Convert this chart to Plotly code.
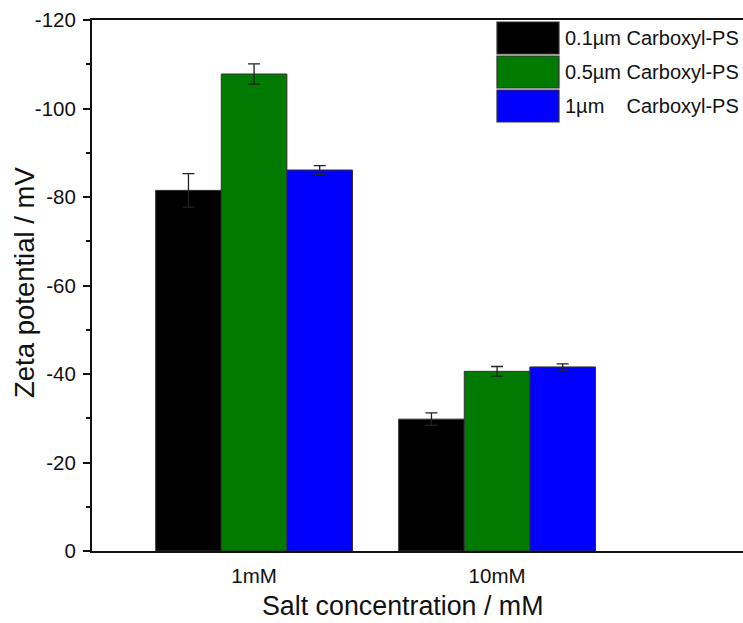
import plotly.graph_objects as go

# Zeta potential of carboxylated polystyrene particles at two salt concentrations
salt_levels = ["1mM", "10mM"]
series_names = ["0.1\u00b5m Carboxyl-PS", "0.5\u00b5m Carboxyl-PS", "1\u00b5m\u00a0\u00a0\u00a0\u00a0Carboxyl-PS"]
zeta_01um = [-81.5, -29.8]
zeta_05um = [-107.8, -40.6]
zeta_1um = [-86.1, -41.6]
err_01um = [3.8, 1.4]
err_05um = [2.3, 1.1]
err_1um = [1.0, 0.7]
y_ticks = [0, -20, -40, -60, -80, -100, -120]
y_tick_text = ["0", "-20", "-40", "-60", "-80", "-100", "-120"]

colors = ["#000000", "#007a00", "#0000ff"]
values = [zeta_01um, zeta_05um, zeta_1um]
errors = [err_01um, err_05um, err_1um]

FONT = "Liberation Sans, Arial, sans-serif"

fig = go.Figure()
for name, vals, errs, col in zip(series_names, values, errors, colors):
    fig.add_trace(go.Bar(
        x=salt_levels, y=vals, name=name,
        marker=dict(color=col, line=dict(color="#333333", width=1)),
        error_y=dict(type="data", array=errs, visible=True,
                     color="#222222", thickness=1.3, width=6),
        showlegend=False,
    ))

# Legend drawn as large swatches with labels (paper coordinates)
W, H = 743, 623
L, R, T, B = 92, 0, 20, 72
pw, ph = W - L - R, H - T - B

def px_x(x):
    return (x - L) / pw

def px_y(y):
    return (H - B - y) / ph

rows = [(22, 54), (56, 88), (90, 122)]
for (y0, y1), name, col in zip(rows, series_names, colors):
    fig.add_shape(type="rect", xref="paper", yref="paper",
                  x0=px_x(497), x1=px_x(559), y0=px_y(y1), y1=px_y(y0),
                  fillcolor=col, line=dict(color="#333333", width=1.2))
    fig.add_annotation(xref="paper", yref="paper", x=px_x(563),
                       y=px_y((y0 + y1) / 2), text=name, showarrow=False,
                       xanchor="left", yanchor="middle",
                       font=dict(family=FONT, size=20, color="#111111"))

# Axis titles
fig.add_annotation(xref="paper", yref="paper", x=px_x(24), y=px_y(283),
                   text="Zeta potential / mV", textangle=-90, showarrow=False,
                   xanchor="center", yanchor="middle",
                   font=dict(family=FONT, size=27.5, color="#111111"))
fig.add_annotation(xref="paper", yref="paper", x=px_x(403), y=px_y(606),
                   text="Salt concentration / mM", showarrow=False,
                   xanchor="center", yanchor="middle",
                   font=dict(family=FONT, size=26.8, color="#111111"))

fig.update_layout(
    width=W, height=H,
    margin=dict(l=L, r=R, t=T, b=B),
    plot_bgcolor="white", paper_bgcolor="white",
    barmode="group", bargap=0.19, bargroupgap=0,
    font=dict(family=FONT, color="#111111"),
    xaxis=dict(
        type="category", range=[-0.667, 2.012],
        showline=True, linecolor="#111111", linewidth=2, mirror=True,
        ticks="", showgrid=False, zeroline=False,
        tickfont=dict(size=20.5), ticklabelstandoff=5,
    ),
    yaxis=dict(
        range=[0, -120], tickvals=y_ticks, ticktext=y_tick_text,
        showline=True, linecolor="#111111", linewidth=2, mirror=False,
        ticks="outside", ticklen=7, tickwidth=1.5, tickcolor="#111111",
        minor=dict(dtick=10, ticks="outside", ticklen=4, tickwidth=1.5, tickcolor="#111111"),
        showgrid=False, zeroline=False,
        tickfont=dict(size=20.5), ticklabelstandoff=3,
    ),
)

fig.write_html("out.html")
